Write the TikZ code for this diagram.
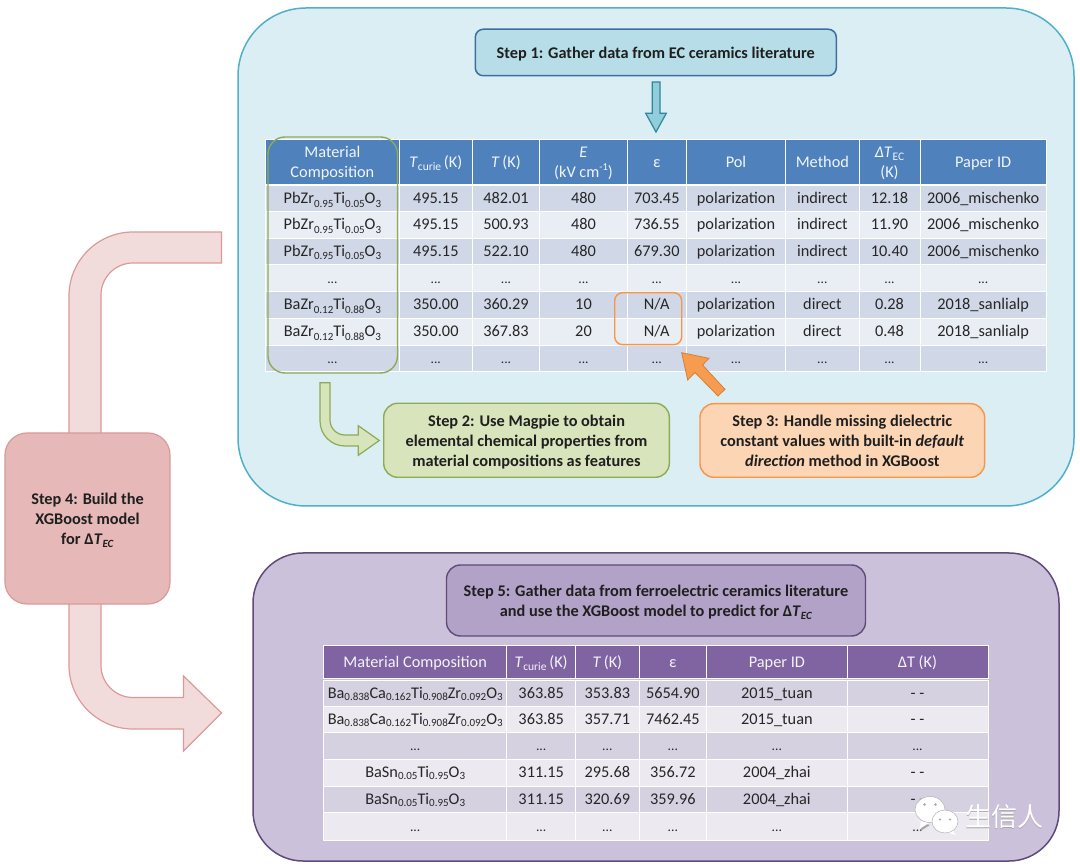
\documentclass[tikz,border=0pt]{standalone}
\usepackage{fontspec}
\setmainfont{Carlito}
\newfontfamily\cjk{Noto Sans CJK SC}
\newcommand{\sbs}[1]{\raisebox{-0.22em}{\fontsize{11}{11}\selectfont #1}}
\newcommand{\sbb}[1]{\raisebox{-0.12em}{\fontsize{11}{11}\selectfont #1}}
\newcommand{\spp}[1]{\raisebox{0.4em}{\fontsize{10.5}{10.5}\selectfont #1}}
\newcommand{\dts}{{\fontsize{13.5}{13.5}\selectfont...}}
\newsavebox{\shiftbox}
\newcommand{\shiftdown}[2]{\sbox{\shiftbox}{\begin{tabular}{@{}c@{}}#2\end{tabular}}\raisebox{-#1}[\ht\shiftbox][\dp\shiftbox]{\usebox{\shiftbox}}}
\newcommand{\hc}[1]{\shiftdown{1.8pt}{#1}}
\newcommand{\stp}[1]{\shiftdown{1.8pt}{#1}}
\definecolor{blpanel}{HTML}{DAEEF3}
\definecolor{blborder}{HTML}{4FB0CC}
\definecolor{stepone}{HTML}{B7DEE8}
\definecolor{steponeb}{HTML}{3B6F9F}
\definecolor{arrowbl}{HTML}{92CDDC}
\definecolor{arrowblb}{HTML}{31859C}
\definecolor{grn}{HTML}{D8E4BC}
\definecolor{grnb}{HTML}{8CAB55}
\definecolor{org}{HTML}{FCD5B5}
\definecolor{orgb}{HTML}{F79646}
\definecolor{redf}{HTML}{E6B9B8}
\definecolor{redb}{HTML}{DB9A98}
\definecolor{reda}{HTML}{F2DCDB}
\definecolor{purp}{HTML}{CCC1DA}
\definecolor{purpb}{HTML}{604A7B}
\definecolor{purpc}{HTML}{B3A2C7}
\definecolor{hdrb}{HTML}{4F81BD}
\definecolor{rowb}{HTML}{D0D8E8}
\definecolor{rowc}{HTML}{E9EDF4}
\definecolor{hdrp}{HTML}{8064A2}
\definecolor{rowp}{HTML}{D6D1E1}
\definecolor{rowq}{HTML}{ECEAF0}
\definecolor{txt}{HTML}{262626}
\def\colsA{265.5,399.3,472.3,539.7,627.3,686.3,785.7,859,920,1046.3}
\def\colsB{323.7,506.7,575.7,639,706.7,847,988}
\newcommand{\cellrow}[6]{%
  \foreach \t [count=\c] in {#6}{%
    \pgfmathsetmacro\xa{{#1}[\c-1]}%
    \pgfmathsetmacro\xb{{#1}[\c]}%
    \node[cellbox,#5,minimum width={\xb-\xa},minimum height={#4-#3}] (#2-\c) at ({(\xa+\xb)/2},{(#3+#4)/2}) {\t};
  }%
}
\begin{document}
\begin{tikzpicture}[x=1pt,y=-1pt,
  cellbox/.style={draw=white,line width=0.9pt,inner sep=0pt,outer sep=0pt,text=txt,font=\fontsize{16.3}{18}\selectfont},
  hdrA/.style={fill=hdrb,text=white!92!hdrb,font=\fontsize{16.3}{20}\selectfont},
  hdrB/.style={fill=hdrp,text=white!92!hdrp,font=\fontsize{16.3}{20}\selectfont},
  bodycell/.style={text height=10.2pt,text depth=0pt},
  rowodd/.style={fill=rowb,bodycell},
  roweven/.style={fill=rowc,bodycell},
  rowpodd/.style={fill=rowp,bodycell},
  rowpeven/.style={fill=rowq,bodycell},
  steptext/.style={inner sep=0pt,text=black!88,font=\fontsize{16.3}{20}\selectfont\bfseries},
]
\useasboundingbox (0,0) rectangle (1080,866);
\fill[white] (0,0) rectangle (1080,866);

% panels
\draw[blborder,line width=1.5pt,fill=blpanel,rounded corners=68pt] (238,8) rectangle (1074,506);
\draw[purpb,line width=1.5pt,fill=purp,rounded corners=50pt] (253,553) rectangle (1059,861);

% looped block arrow behind step 4
\draw[redb,line width=1.2pt,fill=reda] (221.5,232) -- (133,232) arc[start angle=270,end angle=180,radius=64] -- (69,665)
  arc[start angle=180,end angle=90,radius=64] -- (183.5,729) -- (183.5,751) -- (221.5,713) -- (183.5,676) -- (183.5,697.5)
  -- (133,697.5) arc[start angle=90,end angle=180,radius=32] -- (101,295) arc[start angle=180,end angle=270,radius=32] -- (221.5,263) -- cycle;

% step 4
\node[steptext,draw=redb,line width=1.2pt,fill=redf,rounded corners=22pt,minimum width=165pt,minimum height=171pt] (s4box) at (87.5,518.5) {\stp{Step 4: Build the\\XGBoost model\\for Δ\textit{T}\raisebox{-0.2em}{\fontsize{11}{11}\selectfont\textit{EC}}}};

% step 1
\node[steptext,draw=steponeb,line width=1.5pt,fill=stepone,rounded corners=8pt,minimum width=361pt,minimum height=46.5pt] (s1) at (655.8,52.5) {\stp{Step 1: Gather data from EC ceramics literature}};
\draw[arrowblb,line width=1.2pt,fill=arrowbl] (652.3,82) -- (660,82) -- (660,113.3) -- (666.3,113.3) -- (656,132) -- (645.7,113.3) -- (652.3,113.3) -- cycle;

% table 1
\cellrow{\colsA}{a0}{139}{184}{hdrA}{{\hc{Material\\Composition}},{\hc{\textit{T}\raisebox{-0.2em}{\fontsize{11.5}{11.5}\selectfont curie}\,(K)}},{\hc{\textit{T}\,(K)}},{\hc{\textit{E}\\(kV cm\spp{-1})}},{\hc{ε}},{\hc{Pol}},{\hc{Method}},{\hc{\textit{ΔT}\raisebox{-0.2em}{\fontsize{11.5}{11.5}\selectfont EC}\\(K)}},{\hc{Paper ID}}}
\cellrow{\colsA}{a1}{185.5}{211.5}{rowodd}{{PbZr\sbs{0.95}Ti\sbs{0.05}O\sbs{3}},495.15,482.01,480,703.45,polarization,indirect,12.18,2006\_mischenko}
\cellrow{\colsA}{a2}{211.5}{238}{roweven}{{PbZr\sbs{0.95}Ti\sbs{0.05}O\sbs{3}},495.15,500.93,480,736.55,polarization,indirect,11.90,2006\_mischenko}
\cellrow{\colsA}{a3}{238}{264.5}{rowodd}{{PbZr\sbs{0.95}Ti\sbs{0.05}O\sbs{3}},495.15,522.10,480,679.30,polarization,indirect,10.40,2006\_mischenko}
\cellrow{\colsA}{a4}{264.5}{291.5}{roweven}{\dts,\dts,\dts,\dts,\dts,\dts,\dts,\dts,\dts}
\cellrow{\colsA}{a5}{291.5}{318}{rowodd}{{BaZr\sbs{0.12}Ti\sbs{0.88}O\sbs{3}},350.00,360.29,10,N/A,polarization,direct,0.28,2018\_sanlialp}
\cellrow{\colsA}{a6}{318}{345}{roweven}{{BaZr\sbs{0.12}Ti\sbs{0.88}O\sbs{3}},350.00,367.83,20,N/A,polarization,direct,0.48,2018\_sanlialp}
\cellrow{\colsA}{a7}{345}{371.5}{rowodd}{\dts,\dts,\dts,\dts,\dts,\dts,\dts,\dts,\dts}

% highlight outlines
\draw[grnb,line width=1.4pt,rounded corners=17pt] (268,137) rectangle (397.5,373);
\draw[orgb,line width=1.4pt,rounded corners=8pt] (614.7,292.7) rectangle (681.7,344.7);

% step 2 arrow + box
\draw[grnb,line width=1.2pt,fill=grn] (320,382.7) -- (330,382.7) -- (330,420) arc[start angle=180,end angle=90,radius=15] -- (358.3,435) -- (358.3,425.7) -- (379.3,440.5) -- (358.3,455.3) -- (358.3,446)
  -- (345,446) arc[start angle=90,end angle=180,radius=25] -- cycle;
\node[steptext,draw=grnb,line width=1.4pt,fill=grn,rounded corners=14pt,minimum width=285.6pt,minimum height=74pt] (s2) at (526.5,440.3) {\stp{Step 2: Use Magpie to obtain\\elemental chemical properties from\\material compositions as features}};

% step 3 arrow + box
\draw[orgb!85!black,line width=0.8pt,fill=orgb!95!white] (681.7,352.7) -- (709,358.3) -- (702.5,365) -- (725,389.3) -- (718,396) -- (695,372.5) -- (687.7,380) -- cycle;
\node[steptext,draw=orgb,line width=1.4pt,fill=org,rounded corners=14pt,minimum width=284.7pt,minimum height=73.6pt] (s3) at (842.3,440.5) {\stp{Step 3: Handle missing dielectric\\constant values with built-in \textit{default}\\\textit{direction} method in XGBoost}};

% step 5
\node[steptext,draw=purpb,line width=1.4pt,fill=purpc,rounded corners=14pt,minimum width=419pt,minimum height=71pt] (s5) at (656,600.5) {\stp{Step 5: Gather data from ferroelectric ceramics literature\\and use the XGBoost model to predict for Δ\textit{T}\raisebox{-0.2em}{\fontsize{11}{11}\selectfont\textit{EC}}}};

% table 2
\cellrow{\colsB}{b0}{645}{678.5}{hdrB}{{\hc{Material Composition}},{\hc{\textit{T}\raisebox{-0.2em}{\fontsize{11.5}{11.5}\selectfont curie}\,(K)}},{\hc{\textit{T}\,(K)}},{\hc{ε}},{\hc{Paper ID}},{\hc{ΔT (K)}}}
\cellrow{\colsB}{b1}{680}{706}{rowpodd}{{Ba\sbb{0.838}Ca\sbb{0.162}Ti\sbb{0.908}Zr\sbb{0.092}O\sbb{3}},363.85,353.83,5654.90,2015\_tuan,- -}
\cellrow{\colsB}{b2}{706}{732.7}{rowpeven}{{Ba\sbb{0.838}Ca\sbb{0.162}Ti\sbb{0.908}Zr\sbb{0.092}O\sbb{3}},363.85,357.71,7462.45,2015\_tuan,- -}
\cellrow{\colsB}{b3}{732.7}{759}{rowpodd}{\dts,\dts,\dts,\dts,\dts,\dts}
\cellrow{\colsB}{b4}{759}{786}{rowpeven}{{BaSn\sbb{0.05}Ti\sbb{0.95}O\sbb{3}},311.15,295.68,356.72,2004\_zhai,- -}
\cellrow{\colsB}{b5}{786}{812.3}{rowpodd}{{BaSn\sbb{0.05}Ti\sbb{0.95}O\sbb{3}},311.15,320.69,359.96,2004\_zhai,- -}
\cellrow{\colsB}{b6}{812.3}{840}{rowpeven}{\dts,\dts,\dts,\dts,\dts,\dts}

% watermark
\fill[gray!70] (922,823) -- (920.5,831) -- (930,825) -- cycle;
\fill[white] (921,821) -- (919.5,829) -- (929,823) -- cycle;
\draw[gray!60,line width=0.5pt,fill=white] (930,809.5) ellipse[x radius=15,y radius=13];
\fill[gray!70] (924.5,804.5) circle[radius=1.3] (935.5,804.5) circle[radius=1.3];
\fill[white] (951,829) -- (956,835) -- (945,832) -- cycle;
\draw[gray!60,line width=0.5pt,fill=white] (945,821.5) ellipse[x radius=13,y radius=11.5];
\fill[gray!70] (940,819.5) circle[radius=1.1] (950,819.5) circle[radius=1.1];
\node[inner sep=0pt,text=gray!70,font=\fontsize{26}{26}\selectfont\cjk] (wmshadow) at (1004.6,817.6) {生信人};
\node[inner sep=0pt,text=white,font=\fontsize{26}{26}\selectfont\cjk] (wm) at (1004,817) {生信人};
\end{tikzpicture}
\end{document}
